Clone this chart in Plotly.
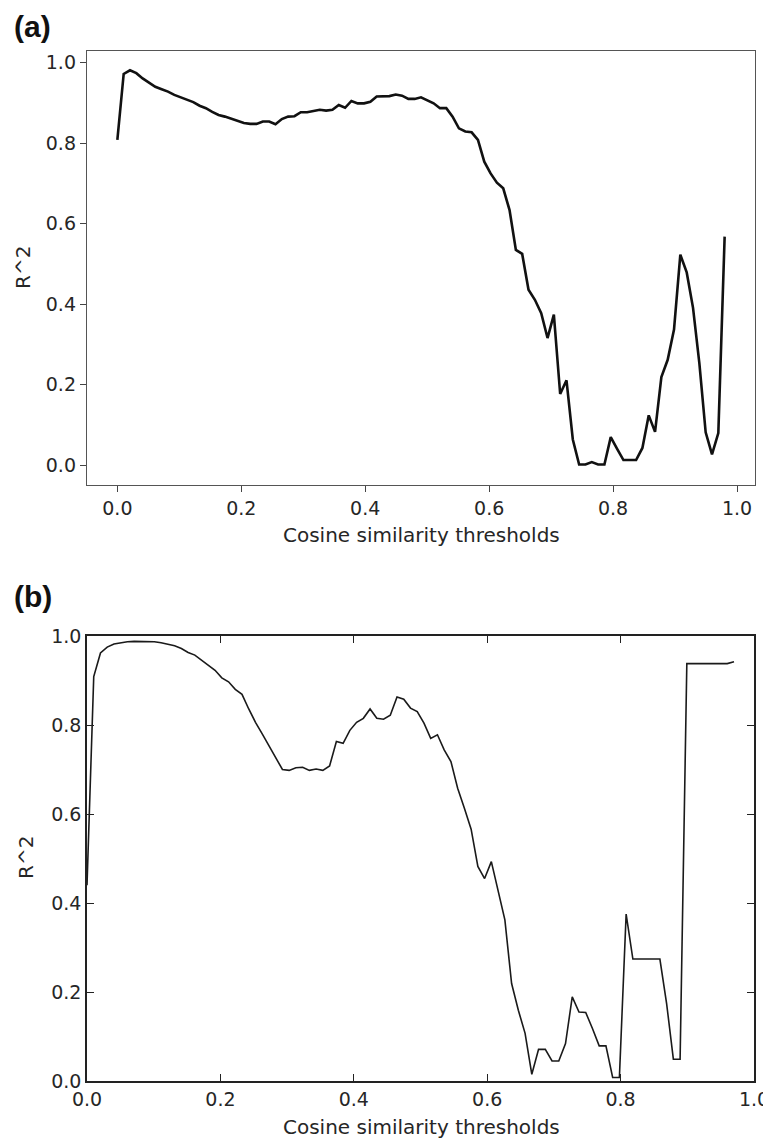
import numpy as np
import plotly.graph_objects as go

# ---------------- data ----------------
thresholds_a = np.round(np.linspace(0.0, 0.98, 97), 4)
r2_a = [0.808, 0.972, 0.981, 0.974, 0.961, 0.950, 0.940, 0.934, 0.928, 0.920,
        0.914, 0.909, 0.902, 0.893, 0.887, 0.878, 0.870, 0.866, 0.860, 0.856,
        0.850, 0.848, 0.848, 0.854, 0.854, 0.847, 0.860, 0.866, 0.867, 0.877,
        0.877, 0.880, 0.883, 0.881, 0.883, 0.895, 0.888, 0.905, 0.899, 0.899,
        0.903, 0.916, 0.917, 0.917, 0.921, 0.918, 0.910, 0.910, 0.914, 0.907,
        0.899, 0.887, 0.887, 0.866, 0.837, 0.829, 0.827, 0.808, 0.754, 0.725,
        0.702, 0.688, 0.634, 0.535, 0.525, 0.436, 0.411, 0.378, 0.316, 0.374,
        0.177, 0.211, 0.064, 0.002, 0.002, 0.008, 0.002, 0.002, 0.070, 0.041,
        0.013, 0.013, 0.013, 0.043, 0.124, 0.083, 0.219, 0.262, 0.337, 0.523,
        0.479, 0.391, 0.254, 0.082, 0.027, 0.080, 0.568]

thresholds_b = np.round(np.linspace(0.0, 0.97, 97), 4)
r2_b = [0.440, 0.909, 0.962, 0.975, 0.982, 0.985, 0.987, 0.988, 0.988, 0.988,
        0.987, 0.985, 0.982, 0.978, 0.972, 0.963, 0.957, 0.946, 0.933, 0.923,
        0.906, 0.897, 0.880, 0.869, 0.836, 0.806, 0.780, 0.754, 0.727, 0.700,
        0.698, 0.704, 0.705, 0.698, 0.701, 0.698, 0.708, 0.763, 0.759, 0.788,
        0.806, 0.815, 0.836, 0.815, 0.813, 0.822, 0.863, 0.858, 0.838, 0.830,
        0.804, 0.770, 0.778, 0.744, 0.718, 0.658, 0.613, 0.566, 0.482, 0.455,
        0.493, 0.429, 0.362, 0.219, 0.159, 0.107, 0.015, 0.071, 0.071, 0.045,
        0.045, 0.084, 0.189, 0.155, 0.154, 0.118, 0.079, 0.079, 0.008, 0.008,
        0.375, 0.274, 0.274, 0.274, 0.274, 0.274, 0.174, 0.049, 0.049, 0.938,
        0.938, 0.938, 0.938, 0.938, 0.938, 0.938, 0.942]

tick_vals = [0.0, 0.2, 0.4, 0.6, 0.8, 1.0]
tick_text = ["0.0", "0.2", "0.4", "0.6", "0.8", "1.0"]
x_title = "Cosine similarity thresholds"
y_title = "R^2"
panel_labels = ["(a)", "(b)"]

# ---------------- layout helpers ----------------
# the page body has an 8px margin, so the figure is shifted by 8px
OFF = 8
W, H = 771 - OFF, 1140 - OFF
def px(x):
    return (x - OFF) / W
def py(y):
    return 1 - (y - OFF) / H

tick_font = dict(family="DejaVu Sans", size=19, color="#262626")
title_font = dict(family="DejaVu Sans", size=20, color="#262626")

fig = go.Figure()
fig.add_trace(go.Scatter(x=thresholds_a, y=r2_a, mode="lines",
                         line=dict(color="#111111", width=2.6),
                         xaxis="x", yaxis="y", showlegend=False))
fig.add_trace(go.Scatter(x=thresholds_b, y=r2_b, mode="lines",
                         line=dict(color="#1a1a1a", width=1.6),
                         xaxis="x2", yaxis="y2", showlegend=False))

common = dict(showgrid=False, zeroline=False, showline=True,
              tickvals=tick_vals, ticktext=tick_text, tickfont=tick_font,
              automargin=False)

fig.update_layout(
    width=W, height=H,
    margin=dict(l=0, r=0, t=0, b=0),
    paper_bgcolor="white", plot_bgcolor="white",
    xaxis=dict(domain=[px(87), px(755)], range=[-0.049, 1.029], anchor="y",
               ticks="outside", ticklen=6, tickwidth=1.2, tickcolor="#444",
               linecolor="#555", linewidth=1.4, mirror=True, **common),
    yaxis=dict(domain=[py(485), py(51)], range=[-0.049, 1.029], anchor="x",
               ticks="outside", ticklen=6, tickwidth=1.2, tickcolor="#444",
               linecolor="#555", linewidth=1.4, mirror=True, **common),
    xaxis2=dict(domain=[px(87), px(754)], range=[0, 1], anchor="y2",
                ticks="inside", ticklen=7, tickwidth=1.2, tickcolor="#222",
                linecolor="#222", linewidth=1.6, mirror="ticks", **common),
    yaxis2=dict(domain=[py(1081), py(636)], range=[0, 1], anchor="x2",
                ticks="inside", ticklen=7, tickwidth=1.2, tickcolor="#222",
                linecolor="#222", linewidth=1.6, mirror="ticks", **common),
)

annos = [
    dict(text="<b>%s</b>" % panel_labels[0], x=px(12), y=py(26), xanchor="left", yanchor="middle",
         font=dict(family="Liberation Sans", size=30, color="#111")),
    dict(text="<b>%s</b>" % panel_labels[1], x=px(12), y=py(596), xanchor="left", yanchor="middle",
         font=dict(family="Liberation Sans", size=30, color="#111")),
    dict(text=x_title, x=px(421), y=py(535), xanchor="center", yanchor="middle", font=title_font),
    dict(text=x_title, x=px(421), y=py(1127), xanchor="center", yanchor="middle", font=title_font),
    dict(text=y_title, x=px(23), y=py(268), xanchor="center", yanchor="middle", textangle=-90, font=title_font),
    dict(text=y_title, x=px(26), y=py(858), xanchor="center", yanchor="middle", textangle=-90, font=title_font),
]
for a in annos:
    a.update(xref="paper", yref="paper", showarrow=False)
fig.update_layout(annotations=annos)

fig.write_html("out.html")
